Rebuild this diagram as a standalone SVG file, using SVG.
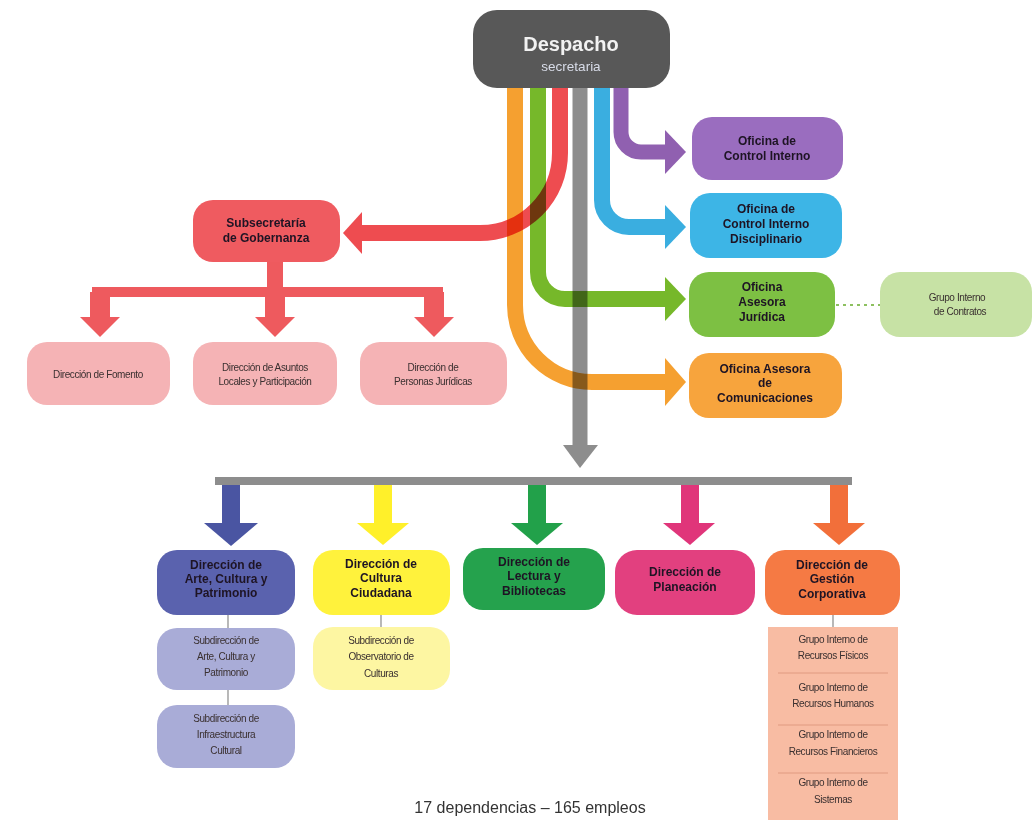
<svg xmlns="http://www.w3.org/2000/svg" width="1034" height="823" viewBox="0 0 1034 823">
<style>
.t{font-family:"Liberation Sans",Arial,sans-serif;text-anchor:middle}
.b{font-weight:bold;font-size:12px;fill:#1e1424}
.s{font-size:10px;fill:#3a3030;letter-spacing:-0.4px}
.c{fill:none;mix-blend-mode:multiply}
.ln{stroke:#8a8a8a;stroke-width:1.2}
</style>
<rect width="1034" height="823" fill="#ffffff"/>
<g id="connectors">
  <path class="c" d="M515 88 V305 A77 77 0 0 0 592 382 H668" stroke="#f5a030" stroke-width="16"/>
  <path class="c" d="M538 88 V272 A27 27 0 0 0 565 299 H668" stroke="#76b82a" stroke-width="16"/>
  <path class="c" d="M560 88 V153 A80 80 0 0 1 480 233 H360" stroke="#ee4c50" stroke-width="16"/>
  <path class="c" d="M580 88 V447" stroke="#8d8d8d" stroke-width="15"/>
  <path class="c" d="M602 88 V200 A27 27 0 0 0 629 227 H668" stroke="#3aaee0" stroke-width="16"/>
  <path class="c" d="M621 88 V132 A20 20 0 0 0 641 152 H668" stroke="#9060b0" stroke-width="15"/>
  <polygon points="665,358 686,382 665,406" fill="#f5a030"/>
  <polygon points="665,277 686,299 665,321" fill="#76b82a"/>
  <polygon points="362,212 343,233 362,254" fill="#ee4c50"/>
  <polygon points="563,445 598,445 580,468" fill="#8d8d8d"/>
  <polygon points="665,205 686,227 665,249" fill="#3aaee0"/>
  <polygon points="665,130 686,152 665,174" fill="#9060b0"/>
  <path d="M275 262 V292" stroke="#ee5a5e" stroke-width="16" fill="none"/>
  <path d="M92 292 H443" stroke="#ee5a5e" stroke-width="10" fill="none"/>
  <path d="M100 292 V318 M275 292 V318 M434 292 V318" stroke="#ee5a5e" stroke-width="20" fill="none"/>
  <polygon points="80,317 120,317 100,337" fill="#ee5a5e"/>
  <polygon points="255,317 295,317 275,337" fill="#ee5a5e"/>
  <polygon points="414,317 454,317 434,337" fill="#ee5a5e"/>
  <path d="M836 305 H880" stroke="#8dc060" stroke-width="2" stroke-dasharray="3 4" fill="none"/>
  <rect x="215" y="477" width="637" height="8" fill="#8d8d8d"/>
  <path d="M231 485 V524" stroke="#4a55a2" stroke-width="18"/>
  <polygon points="204,523 258,523 231,546" fill="#4a55a2"/>
  <path d="M383 485 V524" stroke="#fff02a" stroke-width="18"/>
  <polygon points="357,523 409,523 383,545" fill="#fff02a"/>
  <path d="M537 485 V524" stroke="#22a14a" stroke-width="18"/>
  <polygon points="511,523 563,523 537,545" fill="#22a14a"/>
  <path d="M690 485 V524" stroke="#e0357a" stroke-width="18"/>
  <polygon points="663,523 715,523 690,545" fill="#e0357a"/>
  <path d="M839 485 V524" stroke="#f26f3a" stroke-width="18"/>
  <polygon points="813,523 865,523 839,545" fill="#f26f3a"/>
  <path class="ln" d="M228 615 V628 M228 690 V705 M381 615 V627 M833 615 V627"/>
</g>
<g id="despacho">
  <rect x="473" y="10" width="197" height="78" rx="24" fill="#585858"/>
  <text class="t" x="571" y="51" font-size="20" font-weight="bold" fill="#f2f2f2">Despacho</text>
  <text class="t" x="571" y="71" font-size="13.5" fill="#d8dce8">secretaria</text>
</g>
<g id="oci">
  <rect x="692" y="117" width="151" height="63" rx="20" fill="#9a6dbf"/>
  <text class="t b" x="767" y="145">Oficina de</text>
  <text class="t b" x="767" y="160">Control Interno</text>
</g>
<g id="ocid">
  <rect x="690" y="193" width="152" height="65" rx="20" fill="#3db5e6"/>
  <text class="t b" x="766" y="213">Oficina de</text>
  <text class="t b" x="766" y="228">Control Interno</text>
  <text class="t b" x="766" y="243">Disciplinario</text>
</g>
<g id="oaj">
  <rect x="689" y="272" width="146" height="65" rx="20" fill="#7dc043"/>
  <text class="t b" x="762" y="291">Oficina</text>
  <text class="t b" x="762" y="306">Asesora</text>
  <text class="t b" x="762" y="321">Jurídica</text>
</g>
<g id="contratos">
  <rect x="880" y="272" width="152" height="65" rx="20" fill="#c7e2a5"/>
  <text class="t s" x="957" y="301">Grupo Interno</text>
  <text class="t s" x="960" y="315">de Contratos</text>
</g>
<g id="oac">
  <rect x="689" y="353" width="153" height="65" rx="20" fill="#f7a43d"/>
  <text class="t b" x="765" y="373">Oficina Asesora</text>
  <text class="t b" x="765" y="387">de</text>
  <text class="t b" x="765" y="402">Comunicaciones</text>
</g>
<g id="subsecretaria">
  <rect x="193" y="200" width="147" height="62" rx="20" fill="#ef5b60"/>
  <text class="t b" x="266" y="227" fill="#2a0a0e">Subsecretaría</text>
  <text class="t b" x="266" y="242" fill="#2a0a0e">de Gobernanza</text>
</g>
<g id="fomento">
  <rect x="27" y="342" width="143" height="63" rx="20" fill="#f5b3b5"/>
  <text class="t s" x="98" y="378">Dirección de Fomento</text>
</g>
<g id="asuntos">
  <rect x="193" y="342" width="144" height="63" rx="20" fill="#f5b3b5"/>
  <text class="t s" x="265" y="371">Dirección de Asuntos</text>
  <text class="t s" x="265" y="385">Locales y Participación</text>
</g>
<g id="personas">
  <rect x="360" y="342" width="147" height="63" rx="20" fill="#f5b3b5"/>
  <text class="t s" x="433" y="371">Dirección de</text>
  <text class="t s" x="433" y="385">Personas Jurídicas</text>
</g>
<g id="arte">
  <rect x="157" y="550" width="138" height="65" rx="20" fill="#5a62ae"/>
  <text class="t b" x="226" y="569">Dirección de</text>
  <text class="t b" x="226" y="583">Arte, Cultura y</text>
  <text class="t b" x="226" y="597">Patrimonio</text>
</g>
<g id="sub-arte">
  <rect x="157" y="628" width="138" height="62" rx="20" fill="#a9acd7"/>
  <text class="t s" x="226" y="644">Subdirección de</text>
  <text class="t s" x="226" y="660">Arte, Cultura y</text>
  <text class="t s" x="226" y="676">Patrimonio</text>
</g>
<g id="sub-infra">
  <rect x="157" y="705" width="138" height="63" rx="20" fill="#a9acd7"/>
  <text class="t s" x="226" y="722">Subdirección de</text>
  <text class="t s" x="226" y="738">Infraestructura</text>
  <text class="t s" x="226" y="754">Cultural</text>
</g>
<g id="cultura">
  <rect x="313" y="550" width="137" height="65" rx="20" fill="#fff23c"/>
  <text class="t b" x="381" y="568">Dirección de</text>
  <text class="t b" x="381" y="582">Cultura</text>
  <text class="t b" x="381" y="597">Ciudadana</text>
</g>
<g id="sub-observatorio">
  <rect x="313" y="627" width="137" height="63" rx="20" fill="#fdf6a2"/>
  <text class="t s" x="381" y="644">Subdirección de</text>
  <text class="t s" x="381" y="660">Observatorio de</text>
  <text class="t s" x="381" y="677">Culturas</text>
</g>
<g id="lectura">
  <rect x="463" y="548" width="142" height="62" rx="20" fill="#25a24d"/>
  <text class="t b" x="534" y="566">Dirección de</text>
  <text class="t b" x="534" y="580">Lectura y</text>
  <text class="t b" x="534" y="595">Bibliotecas</text>
</g>
<g id="planeacion">
  <rect x="615" y="550" width="140" height="65" rx="22" fill="#e2407f"/>
  <text class="t b" x="685" y="576">Dirección de</text>
  <text class="t b" x="685" y="591">Planeación</text>
</g>
<g id="gestion">
  <rect x="765" y="550" width="135" height="65" rx="20" fill="#f57a44"/>
  <text class="t b" x="832" y="569">Dirección de</text>
  <text class="t b" x="832" y="583">Gestión</text>
  <text class="t b" x="832" y="598">Corporativa</text>
</g>
<g id="grupos">
  <rect x="768" y="627" width="130" height="193" fill="#f8bca3"/>
  <path d="M778 673 H888 M778 725 H888 M778 773 H888" stroke="#e09a80" stroke-width="1"/>
  <text class="t s" x="833" y="643">Grupo Interno de</text>
  <text class="t s" x="833" y="659">Recursos Físicos</text>
  <text class="t s" x="833" y="691">Grupo Interno de</text>
  <text class="t s" x="833" y="707">Recursos  Humanos</text>
  <text class="t s" x="833" y="738">Grupo Interno de</text>
  <text class="t s" x="833" y="755">Recursos Financieros</text>
  <text class="t s" x="833" y="786">Grupo Interno de</text>
  <text class="t s" x="833" y="803">Sistemas</text>
</g>
<text class="t" x="530" y="813" font-size="16" fill="#333333">17 dependencias – 165 empleos</text>
</svg>
